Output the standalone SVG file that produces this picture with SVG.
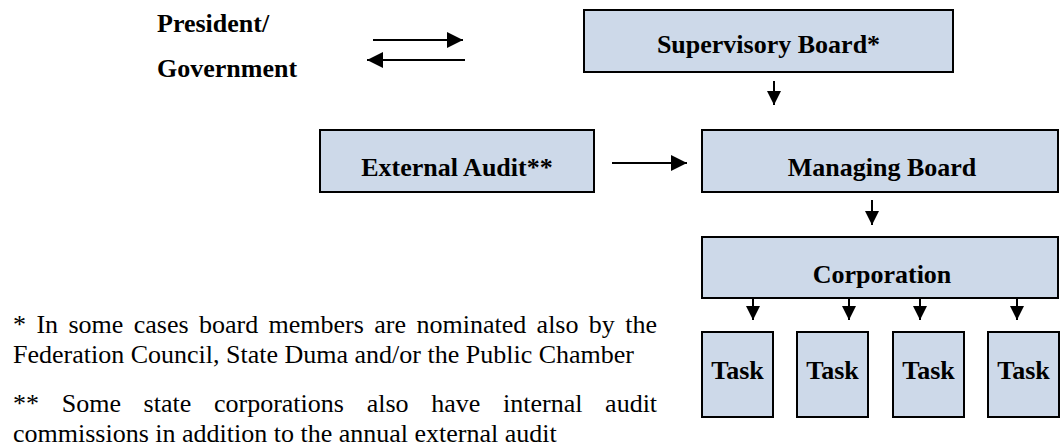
<svg xmlns="http://www.w3.org/2000/svg" width="1060" height="447" viewBox="0 0 1060 447">
<style>
.box{fill:#CDD9E9;stroke:#000;stroke-width:2}
.lbl{font-family:"Liberation Serif","Times New Roman",serif;font-weight:bold;font-size:26px;fill:#000}
.note{font-family:"Liberation Serif","Times New Roman",serif;font-size:26px;fill:#000}
.c{stroke:#000;stroke-width:2;fill:none}
</style>
<defs>
<marker id="ah" markerUnits="userSpaceOnUse" markerWidth="16" markerHeight="16" viewBox="0 0 16 16" refX="16" refY="8" orient="auto">
<path d="M0,0 L16,8 L0,16 Z" fill="#000"/>
</marker>
<marker id="ahs" markerUnits="userSpaceOnUse" markerWidth="14" markerHeight="14" viewBox="0 0 14 14" refX="14" refY="7" orient="auto">
<path d="M0,0 L14,7 L0,14 Z" fill="#000"/>
</marker>
</defs>

<g id="president">
<text class="lbl" x="157" y="32">President/</text>
<text class="lbl" x="157" y="77">Government</text>
</g>

<g id="supervisory">
<rect class="box" x="584" y="10" width="369" height="62"/>
<text class="lbl" x="768.5" y="53" text-anchor="middle">Supervisory Board*</text>
</g>

<g id="external">
<rect class="box" x="320" y="130" width="274" height="62"/>
<text class="lbl" x="457" y="176" text-anchor="middle">External Audit**</text>
</g>

<g id="managing">
<rect class="box" x="702" y="130" width="356" height="62"/>
<text class="lbl" x="882" y="176" text-anchor="middle">Managing Board</text>
</g>

<g id="corporation">
<rect class="box" x="702" y="237" width="356" height="61"/>
<text class="lbl" x="882" y="283" text-anchor="middle">Corporation</text>
</g>

<g id="task1">
<rect class="box" x="702" y="332" width="71" height="85"/>
<text class="lbl" x="737.5" y="379" text-anchor="middle">Task</text>
</g>
<g id="task2">
<rect class="box" x="797" y="332" width="71" height="85"/>
<text class="lbl" x="832.5" y="379" text-anchor="middle">Task</text>
</g>
<g id="task3">
<rect class="box" x="893" y="332" width="71" height="85"/>
<text class="lbl" x="928.5" y="379" text-anchor="middle">Task</text>
</g>
<g id="task4">
<rect class="box" x="988" y="332" width="71" height="85"/>
<text class="lbl" x="1023.5" y="379" text-anchor="middle">Task</text>
</g>

<g id="connectors">
<line class="c" x1="373" y1="40" x2="463" y2="40" marker-end="url(#ah)"/>
<line class="c" x1="465" y1="60" x2="367" y2="60" marker-end="url(#ah)"/>
<line class="c" x1="774" y1="81" x2="774" y2="105" marker-end="url(#ahs)"/>
<line class="c" x1="612" y1="163" x2="687" y2="163" marker-end="url(#ah)"/>
<line class="c" x1="872" y1="200" x2="872" y2="225" marker-end="url(#ahs)"/>
<line class="c" x1="753" y1="298" x2="753" y2="320" marker-end="url(#ahs)"/>
<line class="c" x1="849" y1="298" x2="849" y2="320" marker-end="url(#ahs)"/>
<line class="c" x1="920" y1="298" x2="920" y2="320" marker-end="url(#ahs)"/>
<line class="c" x1="1017" y1="298" x2="1017" y2="320" marker-end="url(#ahs)"/>
</g>

<g id="footnotes">
<text class="note" x="13" y="333" word-spacing="3.9">* In some cases board members are nominated also by the</text>
<text class="note" x="13" y="363">Federation Council, State Duma and/or the Public Chamber</text>
<text class="note" x="13" y="412" word-spacing="16.2">** Some state corporations also have internal audit</text>
<text class="note" x="13" y="442">commissions in addition to the annual external audit</text>
</g>
</svg>
